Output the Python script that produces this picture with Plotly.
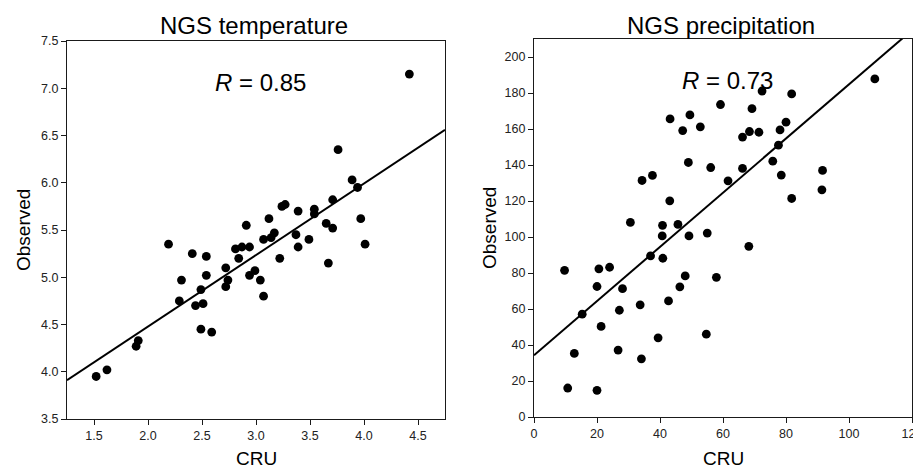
import plotly.graph_objects as go

# ---- data: NGS temperature ----
temp_cru = [1.52, 1.62, 1.89, 1.91, 2.19, 2.29, 2.31, 2.41, 2.44, 2.49, 2.49, 2.51, 2.54, 2.54, 2.59,
            2.72, 2.72, 2.74, 2.81, 2.84, 2.87, 2.91, 2.94, 2.94, 2.99, 3.04, 3.07, 3.07, 3.12, 3.14,
            3.17, 3.22, 3.24, 3.27, 3.37, 3.39, 3.39, 3.49, 3.54, 3.54, 3.65, 3.67, 3.71, 3.71, 3.76,
            3.89, 3.94, 3.97, 4.01, 4.42]
temp_obs = [3.95, 4.02, 4.27, 4.33, 5.35, 4.75, 4.97, 5.25, 4.70, 4.87, 4.45, 4.72, 5.22, 5.02, 4.42,
            5.10, 4.90, 4.97, 5.30, 5.20, 5.32, 5.55, 5.32, 5.02, 5.07, 4.97, 4.80, 5.40, 5.62, 5.42,
            5.47, 5.20, 5.75, 5.77, 5.45, 5.70, 5.32, 5.40, 5.72, 5.67, 5.57, 5.15, 5.82, 5.52, 6.35,
            6.03, 5.95, 5.62, 5.35, 7.15]
temp_fit = [0.757, 2.964]   # slope, intercept
temp_r = "0.85"

# ---- data: NGS precipitation ----
prec_cru = [9.7, 10.7, 12.8, 15.3, 20.0, 20.6, 20.0, 21.3, 24.0, 26.7, 27.1, 28.1, 30.6, 33.7, 34.3,
            34.1, 37.0, 37.6, 39.4, 40.7, 40.8, 40.9, 42.7, 43.1, 43.2, 45.7, 46.3, 47.2, 48.0, 49.0,
            49.2, 49.5, 52.8, 54.7, 55.0, 56.1, 57.9, 59.2, 61.6, 66.2, 66.2, 68.2, 68.4, 69.2, 71.4,
            72.4, 75.8, 77.6, 78.1, 78.5, 80.0, 81.8, 81.8, 91.4, 91.6, 108.2]
prec_obs = [81.5, 16.1, 35.3, 57.1, 72.5, 82.3, 14.8, 50.3, 83.2, 37.2, 59.3, 71.3, 108.1, 62.3, 131.4,
            32.3, 89.5, 134.2, 44.0, 100.6, 106.5, 88.2, 64.5, 120.1, 165.6, 107.0, 72.3, 159.1, 78.4, 141.4,
            100.6, 167.8, 161.2, 46.0, 102.2, 138.6, 77.6, 173.6, 131.2, 155.5, 138.1, 94.8, 158.6, 171.3, 158.2,
            181.1, 142.1, 151.0, 159.5, 134.4, 163.8, 179.5, 121.4, 126.2, 137.0, 187.8]
prec_fit = [1.505, 34.3]    # slope, intercept
prec_r = "0.73"

titles = ["NGS temperature", "NGS precipitation"]
x_title = "CRU"
y_title = "Observed"

OFF = 8                      # page body margin in the browser
W, H = 921 - OFF, 469 - OFF  # figure size so that it fits the window
FONT = "Arial, Liberation Sans, sans-serif"

fig = go.Figure()

def px_x(p):
    return (p - OFF) / W

def px_y(p):
    return 1 - (p - OFF) / H

panels = [
    dict(x=temp_cru, y=temp_obs, fit=temp_fit, r=temp_r, xr=[1.25, 4.75], yr=[3.5, 7.5],
         xd=[67, 445], yd=[41, 419], xdt=0.5, ydt=0.5, xfmt=".1f", yfmt=".1f", title=titles[0]),
    dict(x=prec_cru, y=prec_obs, fit=prec_fit, r=prec_r, xr=[0, 120], yr=[0, 210],
         xd=[534, 912], yd=[39, 417], xdt=20, ydt=20, xfmt="", yfmt="", title=titles[1]),
]

for i, p in enumerate(panels):
    n = "" if i == 0 else str(i + 1)
    xa, ya = "x" + n, "y" + n
    fig.add_trace(go.Scatter(x=p["x"], y=p["y"], mode="markers", xaxis=xa, yaxis=ya,
                             marker=dict(color="black", size=8.8, line=dict(width=0)), showlegend=False))
    s, b = p["fit"]
    lx = p["xr"]
    fig.add_trace(go.Scatter(x=lx, y=[s * v + b for v in lx], mode="lines", xaxis=xa, yaxis=ya,
                             line=dict(color="black", width=2), showlegend=False))
    common = dict(showline=True, linecolor="#1a1a1a", linewidth=1.2, mirror=True, ticks="outside",
                  ticklen=5, tickcolor="#1a1a1a", showgrid=False, zeroline=False, automargin=False,
                  ticklabeloverflow="allow",
                  tickfont=dict(family=FONT, size=12.5, color="#222"))
    fig.layout["xaxis" + n] = dict(common, domain=[px_x(p["xd"][0]), px_x(p["xd"][1])], range=p["xr"],
                                   dtick=p["xdt"], tick0=0, tickformat=p["xfmt"], anchor=ya)
    fig.layout["yaxis" + n] = dict(common, domain=[px_y(p["yd"][1]), px_y(p["yd"][0])], range=p["yr"],
                                   dtick=p["ydt"], tick0=0, tickformat=p["yfmt"], anchor=xa)
    cx = (p["xd"][0] + p["xd"][1]) / 2
    fig.add_annotation(text=p["title"], x=px_x(cx - 2), y=px_y(25), xref="paper", yref="paper",
                       showarrow=False, font=dict(family=FONT, size=24, color="black"),
                       xanchor="center", yanchor="middle")
    fig.add_annotation(text="<i>R</i> = " + p["r"], x=px_x(cx + 4), y=px_y(82 if i == 0 else 80),
                       xref="paper", yref="paper", showarrow=False,
                       font=dict(family=FONT, size=24, color="black"), xanchor="center", yanchor="middle")
    fig.add_annotation(text=x_title, x=px_x(cx), y=px_y(458), xref="paper", yref="paper",
                       showarrow=False, font=dict(family=FONT, size=19, color="black"),
                       xanchor="center", yanchor="middle")
    fig.add_annotation(text=y_title, x=px_x(p["xd"][0] - 44),
                       y=px_y((p["yd"][0] + p["yd"][1]) / 2), xref="paper", yref="paper",
                       showarrow=False, textangle=-90, font=dict(family=FONT, size=19, color="black"),
                       xanchor="center", yanchor="middle")

fig.update_layout(width=W, height=H, margin=dict(l=0, r=0, t=0, b=0, autoexpand=False),
                  template="none", plot_bgcolor="white", paper_bgcolor="white", showlegend=False)

fig.write_html("out.html")
